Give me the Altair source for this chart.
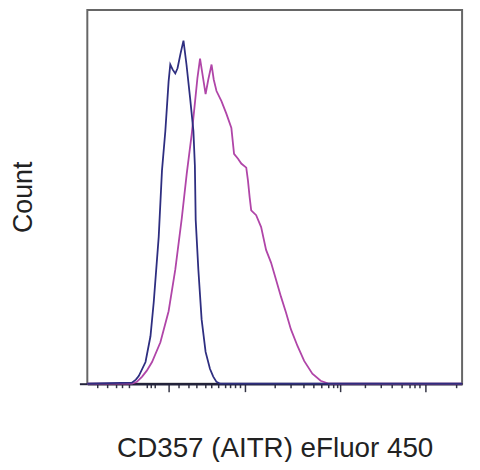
import altair as alt
import pandas as pd

# Channel position (0-1000 across the plot) and count (% of max, 0-100)
iso_x = [0, 119.0, 129.6, 137.6, 155.3, 168.5, 177.2, 190.5, 199.2, 208.2, 216.9, 221.4,
         227.5, 234.7, 240.7, 248.7, 256.6, 264.6, 274.3, 283.1, 287.0, 289.2, 296.3,
         305.0, 315.6, 327.2, 336.0, 344.7, 354.5, 1000]
iso_y = [0, 0.3, 1.1, 2.1, 5.8, 12.7, 21.8, 39.3, 57.0, 67.6, 80.9, 85.4,
         84.1, 83.0, 84.4, 88.3, 91.8, 85.4, 76.4, 67.6, 58.4, 43.8, 30.5,
         17.2, 8.5, 4.0, 1.9, 0.5, 0, 0]

ab_x = [0, 119.0, 132.3, 146.3, 158.7, 172.7, 195.0, 216.9, 234.7, 252.1, 265.3, 278.6,
        287.6, 293.7, 300.8, 308.2, 315.6, 322.8, 331.5, 337.3, 344.7, 357.9, 371.2,
        384.4, 391.5, 402.1, 410.8, 424.1, 428.6, 433.1, 437.3, 450.5, 463.8, 477.0,
        490.2, 503.4, 516.7, 529.9, 543.1, 560.8, 578.6, 600.5, 622.5, 644.7, 1000]
ab_y = [0, 0, 0.5, 1.9, 3.5, 5.8, 11.1, 19.4, 30.5, 44.3, 56.2, 66.8,
        75.6, 81.7, 87.0, 82.2, 77.5, 81.4, 85.4, 81.4, 78.3, 75.6, 72.2,
        68.4, 61.5, 60.2, 58.9, 57.8, 54.4, 49.9, 46.4, 45.1, 41.9, 35.8,
        32.4, 27.9, 23.3, 19.1, 14.6, 10.1, 6.1, 2.7, 0.8, 0, 0]

major_ticks = [216.9, 420.6, 674.6, 902.1]
minor_ticks = [26.5, 52.9, 76.7, 92.6, 111.1, 158.7, 169.3, 179.9, 243.4, 269.8, 291.0,
               314.9, 330.8, 349.2, 368.0, 380.9, 394.2, 407.4, 500.0, 542.3, 576.7,
               603.2, 624.3, 642.9, 656.1, 666.7, 740.7, 783.1, 812.2, 838.6, 859.8,
               873.0, 886.2, 984.1]

series_names = ["Isotype", "CD357"]
series_colors = ["#2e2e80", "#b045a8"]

df = pd.concat([
    pd.DataFrame({"x": ab_x, "y": ab_y, "s": series_names[1], "o": 0}),
    pd.DataFrame({"x": iso_x, "y": iso_y, "s": series_names[0], "o": 1}),
])

all_ticks = sorted(major_ticks + minor_ticks)
major_test = "indexof([" + ",".join(str(v) for v in major_ticks) + "], datum.value) >= 0"

x_axis = alt.Axis(
    values=all_ticks, labels=False, grid=False,
    tickSize=alt.condition(major_test, alt.value(8), alt.value(4)),
    tickColor="#333344", tickWidth=1.5,
    domainColor="#22223a", domainWidth=2.5,
    title="CD357 (AITR) eFluor 450", titleFont="Liberation Sans",
    titleFontSize=28, titleFontWeight="normal", titleColor="#222222",
    titlePadding=43,
)
y_axis = alt.Axis(
    values=[0], labels=False, grid=False, domain=False,
    tickSize=8, tickColor="#22223a", tickWidth=2,
    title="Count", titleFont="Liberation Sans", titleFontSize=27,
    titleFontWeight="normal", titleColor="#222222", titlePadding=41,
)

base = alt.Chart(df)

lines = base.mark_line(strokeWidth=1.8, interpolate="linear").encode(
    x=alt.X("x:Q", scale=alt.Scale(domain=[0, 1000], nice=False, zero=False), axis=x_axis),
    y=alt.Y("y:Q", scale=alt.Scale(domain=[0, 100], nice=False), axis=y_axis),
    color=alt.Color("s:N", scale=alt.Scale(domain=series_names, range=series_colors), legend=None),
    detail="s:N",
    order=alt.Order("o:Q"),
)

chart = lines.properties(
    width=378, height=377,
    autosize=alt.AutoSizeParams(type="none"),
    padding={"left": 80, "top": 0, "right": 10, "bottom": 77},
).configure_view(stroke="#666666", strokeWidth=2)

chart.save("out.html", embed_options={"renderer": "svg", "actions": False})
